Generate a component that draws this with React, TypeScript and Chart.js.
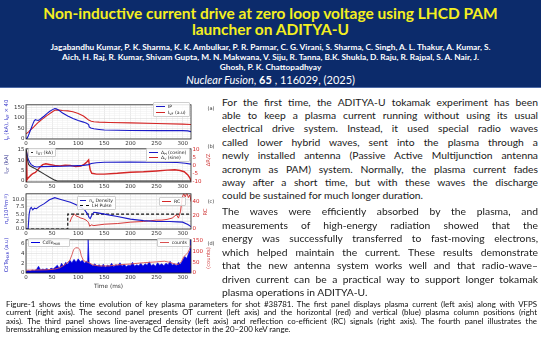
import React, { useEffect, useRef } from "react";
import { Chart, registerables } from "chart.js";
Chart.register(...registerables);

// ---------------- data ----------------
const X_MIN = 0;
const X_MAX = 316;
const X_TICKS = [0, 50, 100, 150, 200, 250, 300];

// (a) plasma current and VFPS current
const ipTime = [0, 2, 4, 7, 10, 13, 16, 18, 20, 23, 26, 30, 35, 40, 45, 50, 55, 58, 62, 70, 80, 90, 100, 110, 116, 120, 121, 124, 130, 140, 150, 175, 200, 250, 300, 310, 316];
const ipValues = [0, 0, 10, 30, 50, 70, 88, 92, 90, 88, 92, 100, 110, 122, 132, 140, 147, 145, 140, 125, 110, 98, 88, 80, 74, 68, 56, 51, 47, 44, 41, 40, 39, 38, 38, 37, 33];
const vfTime = [0, 5, 10, 15, 20, 25, 30, 40, 50, 55, 60, 70, 80, 90, 100, 110, 115, 120, 125, 130, 140, 160, 200, 250, 300, 316];
const vfValues = [22, 32, 45, 57, 70, 82, 92, 112, 130, 138, 140, 137, 135, 131, 122, 110, 100, 90, 84, 82, 80, 78, 76, 73, 70, 68];
const A_LEFT_TICKS = [0, 50, 100, 150];

// (b) OT current and plasma positions
const otTime = [0, 1, 3, 5, 8, 15, 25, 35, 45, 55, 60, 316];
const otValues = [15, 14, 10, 8, 7.2, 6.3, 4.8, 3.3, 1.8, 0.4, 0, 0];
const dhTime = [0, 2, 4, 7, 10, 15, 20, 30, 50, 70, 90, 110, 120, 125, 135, 150, 200, 250, 290, 305, 316];
const dhValues = [10, 7, 4, 2, 0.5, -0.5, -1, -0.8, -0.6, -0.5, -0.3, 0, 0.5, 1.2, 1.7, 2, 2.1, 2, 1.8, 1.4, 0.8];
const dvTime = [0, 1, 2, 4, 7, 10, 14, 18, 22, 27, 32, 38, 45, 55, 65, 75, 85, 95, 105, 112, 117, 120, 121, 123, 126, 135, 150, 175, 200, 225, 250, 270, 285, 295, 303, 310, 314, 316];
const dvValues = [-10, 9, -9, -8, -7, -6, -5, -4.5, -3, -1, 0.5, 1, 0.6, 0, -0.3, 0.2, 0, -0.8, -0.5, 0.8, 2.3, 3.5, 1, -3, -5, -5.5, -5.5, -5, -4.3, -4, -3.5, -3, -2.8, -3.2, -4, -6, -8, -10];
const B_LEFT_TICKS = [0, 5, 10, 15];
const B_RIGHT_TICKS = [-10, -5, 0, 5, 10];

// (c) density, LH pulse, reflection coefficient
const neTime = [0, 4, 6, 8, 10, 13, 16, 20, 25, 35, 45, 55, 65, 75, 85, 95, 105, 112, 118, 121, 123, 126, 130, 135, 150, 175, 200, 225, 250, 275, 290, 300, 310, 316];
const neValues = [0, 0, 5, 6.8, 7.2, 6.4, 7, 6.8, 7.5, 8.5, 9.8, 10.5, 10, 9.5, 9, 8.2, 7.3, 6.5, 5, 3.8, 3.5, 4.6, 5.6, 5.5, 5, 4.2, 3.3, 2.8, 2.5, 2.5, 2.4, 2.3, 1.5, 0.8];
const lhTime = [0, 80, 80, 316];
const lhValues = [0, 0, 5, 5];
const rcTime = [84, 87, 90, 93, 96, 100, 105, 110, 115, 118, 120, 122, 125, 130, 140, 150, 175, 200, 225, 250, 260, 270, 280, 285, 288, 292, 296, 299, 302, 305, 308, 311, 314, 316];
const rcValues = [10, 16, 20, 22, 19, 18, 16, 15, 13, 11, 9, 4, 6, 5, 6, 7, 8, 10, 11, 13, 13, 14, 16, 19, 21, 16, 26, 45, 52, 47, 53, 46, 50, 40];
const C_LEFT_TICKS = [0, 2.5, 5, 7.5, 10];
const C_RIGHT_TICKS = [0, 20, 40];

// (d) CdTe hard x-ray and counts
const cdteTime = [0, 4, 8, 12, 16, 20, 24, 28, 32, 36, 40, 44, 48, 52, 56, 60, 64, 68, 72, 76, 80, 84, 88, 92, 96, 100, 104, 108, 112, 116, 118, 119, 120, 121, 122, 124, 128, 132, 136, 140, 144, 148, 152, 156, 160, 164, 168, 172, 176, 180, 184, 188, 192, 196, 200, 204, 208, 212, 216, 220, 224, 228, 232, 236, 240, 244, 248, 252, 256, 260, 264, 268, 272, 276, 280, 284, 288, 292, 296, 300, 304, 308, 312, 314, 315, 316];
const cdteValues = [0.3, 0.5, 0.4, 0.6, 0.5, 0.7, 1.4, 0.6, 0.8, 0.7, 0.9, 0.6, 1.0, 0.8, 1.2, 1.6, 0.9, 2.0, 1.4, 2.2, 1.8, 2.6, 2.1, 2.8, 2.2, 2.9, 2.3, 2.6, 2.0, 2.4, 2.1, 7.0, 7.0, 2.0, 1.9, 1.8, 1.5, 1.9, 1.4, 1.7, 1.3, 1.8, 1.2, 1.6, 1.4, 2.0, 1.3, 1.7, 1.5, 2.1, 1.4, 1.8, 1.3, 1.6, 1.5, 2.2, 1.4, 1.7, 1.5, 2.0, 1.4, 1.9, 1.6, 2.3, 1.5, 1.8, 1.4, 2.1, 1.6, 1.9, 1.5, 2.0, 1.7, 2.4, 1.6, 1.9, 1.5, 2.2, 1.8, 2.6, 3.4, 3.0, 4.2, 4.6, 7.0, 7.0];
const countTime = [0, 20, 40, 55, 65, 72, 78, 84, 88, 91, 95, 100, 103, 106, 110, 118, 122, 128, 140, 160, 175, 200, 225, 250, 265, 275, 285, 292, 298, 302, 306, 310, 314, 316];
const countValues = [13, 14, 15, 18, 25, 35, 45, 60, 85, 108, 118, 117, 110, 80, 58, 50, 46, 38, 33, 33, 38, 42, 48, 52, 55, 50, 42, 40, 55, 75, 85, 95, 115, 130];
const D_LEFT_TICKS = [0, 2, 4, 6];
const D_RIGHT_TICKS = [0, 50, 100, 150];

// ---------------- styling ----------------
const BLUE = "#1a1ac8";
const RED = "#d42626";
const AX_FONT = "DejaVu Sans";
const CW = 216; // canvas width
const LEFT_W = 26;
const RIGHT_W = 25;

const pts = (t: number[], v: number[]) => t.map((x, i) => ({ x, y: v[i] }));

const framePlugin = {
  id: "frame",
  afterDatasetsDraw(chart: any) {
    const { ctx, chartArea: a } = chart;
    ctx.save();
    ctx.strokeStyle = "#222";
    ctx.lineWidth = 0.8;
    ctx.strokeRect(a.left, a.top, a.right - a.left, a.bottom - a.top);
    ctx.restore();
  },
};

function axis(o: {
  axis: "x" | "y";
  position: string;
  min: number;
  max: number;
  majors: number[];
  minor?: number;
  size: number;
  color?: string;
  fmt?: (v: number) => string;
  grid?: boolean;
  title?: string;
}) {
  const isMajor = (v: number) => o.majors.some((m) => Math.abs(m - v) < 1e-6);
  return {
    type: "linear",
    axis: o.axis,
    position: o.position,
    min: o.min,
    max: o.max,
    afterBuildTicks: (s: any) => {
      const vals: number[] = [];
      if (o.minor) {
        const start = Math.ceil(o.min / o.minor - 1e-9) * o.minor;
        for (let v = start; v <= o.max + 1e-9; v += o.minor) vals.push(Math.round(v * 1000) / 1000);
      } else vals.push(...o.majors);
      s.ticks = vals.map((v) => ({ value: v }));
    },
    afterFit: (s: any) => {
      if (o.axis === "y") s.width = o.size;
      else s.height = o.size;
    },
    ticks: {
      autoSkip: false,
      maxRotation: 0,
      padding: 1.5,
      color: o.color || "#333",
      font: { family: AX_FONT, size: 5.5 },
      callback: (v: number) => (isMajor(v) ? (o.fmt ? o.fmt(v) : String(v)) : ""),
    },
    grid: o.grid
      ? {
          drawTicks: false,
          lineWidth: 0.5,
          color: (c: any) => (c.tick && isMajor(c.tick.value) ? "#d4d4d4" : "#eeeeee"),
        }
      : { display: false, drawTicks: false },
    border: { display: false },
    title: o.title
      ? { display: true, text: o.title, padding: { top: 1.5, bottom: 0 }, font: { family: AX_FONT, size: 5.8 }, color: "#333" }
      : { display: false },
  };
}

const xAxis = (h: number, title?: string) =>
  axis({ axis: "x", position: "bottom", min: X_MIN, max: X_MAX, majors: X_TICKS, minor: 10, size: h, grid: true, title });

const line = (label: string, t: number[], v: number[], color: string, yAxisID = "y", extra: any = {}) => ({
  label,
  data: pts(t, v),
  borderColor: color,
  backgroundColor: color,
  borderWidth: 1.1,
  pointRadius: 0,
  tension: 0,
  yAxisID,
  ...extra,
});

function baseOptions(scales: any, padRight = 0) {
  return {
    animation: false,
    responsive: false,
    devicePixelRatio: 1,
    layout: { padding: { top: 2, right: padRight, left: 0, bottom: 0 } },
    plugins: { legend: { display: false }, tooltip: { enabled: false } },
    scales,
  };
}

const buildA = () => ({
  type: "line",
  data: {
    datasets: [
      line("IP", ipTime, ipValues, BLUE),
      line("I_VF (a.u)", vfTime, vfValues, RED),
    ],
  },
  options: baseOptions(
    {
      x: xAxis(7),
      y: axis({ axis: "y", position: "left", min: -3, max: 165, majors: A_LEFT_TICKS, minor: 10, size: LEFT_W, grid: true }),
    },
    RIGHT_W
  ),
  plugins: [framePlugin],
});

const buildB = () => ({
  type: "line",
  data: {
    datasets: [
      line("I_OT (kA)", otTime, otValues, "#333333"),
      line("Δ_H (cosine)", dhTime, dhValues, BLUE, "y1"),
      line("Δ_V (sine)", dvTime, dvValues, RED, "y1", { borderWidth: 1.4 }),
    ],
  },
  options: baseOptions({
    x: xAxis(7),
    y: axis({ axis: "y", position: "left", min: -0.5, max: 15.5, majors: B_LEFT_TICKS, minor: 1, size: LEFT_W, grid: true }),
    y1: axis({ axis: "y", position: "right", min: -10.5, max: 10.5, majors: B_RIGHT_TICKS, size: RIGHT_W, color: RED }),
  }),
  plugins: [framePlugin],
});

const buildC = () => ({
  type: "line",
  data: {
    datasets: [
      line("n_e Density", neTime, neValues, BLUE),
      line("LH Pulse", lhTime, lhValues, "#111111", "y", { borderDash: [3, 2], borderWidth: 1.2 }),
      line("RC", rcTime, rcValues, RED, "y1", { borderWidth: 0.9 }),
    ],
  },
  options: baseOptions({
    x: xAxis(7),
    y: axis({ axis: "y", position: "left", min: 0, max: 11.8, majors: C_LEFT_TICKS, minor: 0.5, size: LEFT_W, grid: true, fmt: (v) => v.toFixed(1) }),
    y1: axis({ axis: "y", position: "right", min: 0, max: 51.5, majors: C_RIGHT_TICKS, size: RIGHT_W, color: RED }),
  }),
  plugins: [framePlugin],
});

const buildD = () => ({
  type: "line",
  data: {
    datasets: [
      line("counts", countTime, countValues, "#d85050", "y1", { borderWidth: 0.9 }),
      line("CdTe_HXR", cdteTime, cdteValues, "#0000dd", "y", { fill: "origin", borderWidth: 0.6 }),
    ],
  },
  options: baseOptions({
    x: xAxis(17, "Time (ms)"),
    y: axis({ axis: "y", position: "left", min: 0, max: 6.8, majors: D_LEFT_TICKS, minor: 0.5, size: LEFT_W, grid: true }),
    y1: axis({ axis: "y", position: "right", min: 0, max: 155, majors: D_RIGHT_TICKS, size: RIGHT_W, color: RED }),
  }),
  plugins: [framePlugin],
});

// ---------------- components ----------------
function ChartPanel({ top, height, build }: { top: number; height: number; build: () => any }) {
  const ref = useRef<HTMLCanvasElement>(null);
  useEffect(() => {
    const c = new Chart(ref.current as HTMLCanvasElement, build());
    return () => c.destroy();
  }, []);
  return (
    <canvas
      ref={ref}
      width={CW}
      height={height}
      style={{ position: "absolute", left: 0, top, width: CW, height }}
    />
  );
}

type LegItem = { color: string; dash?: boolean; label: React.ReactNode };
function Legend({ x, y, w, items }: { x: number; y: number; w: number; items: LegItem[] }) {
  return (
    <div
      style={{
        position: "absolute",
        left: x,
        top: y,
        width: w,
        padding: "1px 2px",
        boxSizing: "border-box",
        background: "rgba(255,255,255,0.85)",
        border: "0.5px solid #cfcfcf",
        borderRadius: 1,
        fontFamily: AX_FONT,
        fontSize: 4.6,
        color: "#222",
      }}
    >
      {items.map((it, i) => (
        <div key={i} style={{ display: "flex", alignItems: "center", height: 5.4, whiteSpace: "nowrap" }}>
          <span
            style={{
              display: "inline-block",
              width: 9,
              height: 0,
              borderTop: `1.2px ${it.dash ? "dashed" : "solid"} ${it.color}`,
              marginRight: 3,
            }}
          />
          <span>{it.label}</span>
        </div>
      ))}
    </div>
  );
}

function RotLabel({ x, y, color, children, size = 5.3 }: { x: number; y: number; color: string; children: React.ReactNode; size?: number }) {
  return (
    <div
      style={{
        position: "absolute",
        left: x,
        top: y,
        transform: "translate(-50%, -50%) rotate(-90deg)",
        whiteSpace: "nowrap",
        color,
        fontFamily: AX_FONT,
        fontSize: size,
        lineHeight: 1,
      }}
    >
      {children}
    </div>
  );
}

function Tag({ x, y, children }: { x: number; y: number; children: React.ReactNode }) {
  return (
    <div style={{ position: "absolute", left: x, top: y, transform: "translate(-50%,-50%)", fontFamily: AX_FONT, fontSize: 5, color: "#333" }}>
      {children}
    </div>
  );
}

const sub = (t: string) => <sub style={{ fontSize: "0.7em", verticalAlign: "-0.25em", lineHeight: 0 }}>{t}</sub>;
const sup = (t: string) => <sup style={{ fontSize: "0.7em", verticalAlign: "0.45em", lineHeight: 0 }}>{t}</sup>;

const PARA1 = [
  "For the first time, the ADITYA-U tokamak experiment has been",
  "able to keep a plasma current running without using its usual",
  "electrical drive system. Instead, it used special radio waves",
  "called lower hybrid waves, sent into the plasma through a",
  "newly installed antenna (Passive Active Multijunction antenna",
  "acronym as PAM) system. Normally, the plasma current fades",
  "away after a short time, but with these waves the discharge",
  "could be sustained for much longer duration.",
];
const PARA2 = [
  "The waves were efficiently absorbed by the plasma, and",
  "measurements of high-energy radiation showed that the",
  "energy was successfully transferred to fast-moving electrons,",
  "which helped maintain the current. These results demonstrate",
  "that the new antenna system works well and that radio-wave–",
  "driven current can be a practical way to support longer tokamak",
  "plasma operations in ADITYA-U.",
];
const CAPTION = [
  "Figure-1 shows the time evolution of key plasma parameters for shot #38781. The first panel displays plasma current (left axis) along with VFPS",
  "current (right axis). The second panel presents OT current (left axis) and the horizontal (red) and vertical (blue) plasma column positions (right",
  "axis). The third panel shows line-averaged density (left axis) and reflection co-efficient (RC) signals (right axis). The fourth panel illustrates the",
  "bremsstrahlung emission measured by the CdTe detector in the 20–200 keV range.",
];

function Para({ lines, x, y, w, lh, size, color, weight = 400 }: { lines: string[]; x: number; y: number; w: number; lh: number; size: number; color: string; weight?: number }) {
  return (
    <div style={{ position: "absolute", left: x, top: y, width: w, fontFamily: "Lato, 'Open Sans', sans-serif", fontSize: size, color, fontWeight: weight }}>
      {lines.map((l, i) => {
        const last = i === lines.length - 1;
        return (
          <div
            key={i}
            style={{
              height: lh,
              lineHeight: `${lh}px`,
              overflow: "hidden",
              textAlign: last ? "left" : "justify",
              textAlignLast: last ? "left" : "justify",
            } as any}
          >
            {l}
          </div>
        );
      })}
    </div>
  );
}

export default function App() {
  return (
    <div style={{ position: "absolute", left: 0, top: 0, width: 541, height: 342, background: "#fff", overflow: "hidden" }}>
      {/* header */}
      <div style={{ position: "absolute", left: 0, top: 0, width: 541, height: 87, background: "#0c2b6b", borderBottom: "1px solid #4d6aa6" }}>
        <div
          style={{
            position: "absolute",
            left: 0,
            top: 5,
            width: 541,
            textAlign: "center",
            color: "#f4ef1f",
            fontFamily: "Lato, sans-serif",
            fontWeight: 700,
            fontSize: 15.5,
            lineHeight: "16px",
          }}
        >
          Non-inductive current drive at zero loop voltage using LHCD PAM
          <br />
          launcher on ADITYA-U
        </div>
        <div
          style={{
            position: "absolute",
            left: 0,
            top: 41.5,
            width: 541,
            textAlign: "center",
            color: "#ffffff",
            fontFamily: "Lato, sans-serif",
            fontWeight: 700,
            fontSize: 8.3,
            lineHeight: "10.3px",
          }}
        >
          Jagabandhu Kumar, P. K. Sharma, K. K. Ambulkar, P. R. Parmar, C. G. Virani, S. Sharma, C. Singh, A. L. Thakur, A. Kumar, S.
          <br />
          Aich, H. Raj, R. Kumar, Shivam Gupta, M. N. Makwana, V. Siju, R. Tanna, B.K. Shukla, D. Raju, R. Rajpal, S. A. Nair, J.
          <br />
          Ghosh, P. K. Chattopadhyay
        </div>
        <div
          style={{
            position: "absolute",
            left: 0,
            top: 73,
            width: 541,
            textAlign: "center",
            color: "#ffffff",
            fontFamily: "Lato, sans-serif",
            fontSize: 11,
            lineHeight: "14px",
          }}
        >
          <i>Nuclear Fusion</i>, <b>65</b> , 116029, (2025)
        </div>
      </div>

      {/* charts */}
      <ChartPanel top={100} height={46} build={buildA} />
      <ChartPanel top={144} height={45} build={buildB} />
      <ChartPanel top={189} height={47} build={buildC} />
      <ChartPanel top={235} height={55} build={buildD} />

      {/* legends */}
      <Legend x={153} y={102} w={37} items={[
        { color: BLUE, label: "IP" },
        { color: RED, label: <>I{sub("VF")} (a.u)</> },
      ]} />
      <Legend x={28} y={147.5} w={28} items={[{ color: "#333", label: <>I{sub("OT")} (kA)</> }]} />
      <Legend x={146} y={147.5} w={44} items={[
        { color: BLUE, label: <>Δ{sub("H")} (cosine)</> },
        { color: RED, label: <>Δ{sub("V")} (sine)</> },
      ]} />
      <Legend x={77} y={195.5} w={39} items={[
        { color: BLUE, label: <>n{sub("e")} Density</> },
        { color: "#111", dash: true, label: "LH Pulse" },
      ]} />
      <Legend x={159} y={197} w={27} items={[{ color: RED, label: "RC" }]} />
      <Legend x={27.5} y={237.5} w={42} items={[{ color: "#0000dd", label: <>CdTe{sub("HXR")}</> }]} />
      <Legend x={157} y={237.5} w={33} items={[{ color: "#d85050", label: "counts" }]} />

      {/* axis titles */}
      <RotLabel x={6.5} y={120} color="#3434c8">I{sub("p")} (kA), I{sub("VF")} × 40</RotLabel>
      <RotLabel x={6.5} y={164} color="#2a2a8a">I{sub("OT")} (kA)</RotLabel>
      <RotLabel x={6.5} y={209} color="#3434c8">n{sub("e")}(10{sup("19")}m{sup("-3")})</RotLabel>
      <RotLabel x={6.5} y={255} color="#3434c8">CdTe{sub("HXR")} (a.u)</RotLabel>
      <RotLabel x={209} y={160} color="#d04040">ΔR/Z</RotLabel>
      <RotLabel x={206} y={212} color="#d04040">RC</RotLabel>
      <RotLabel x={209} y={258} color="#d04040">(counts)</RotLabel>

      {/* panel tags */}
      <Tag x={211} y={108}>(a)</Tag>
      <Tag x={211} y={146}>(b)</Tag>
      <Tag x={211} y={201}>(c)</Tag>
      <Tag x={211} y={243}>(d)</Tag>

      {/* text */}
      <Para lines={PARA1} x={222} y={95.6} w={316} lh={13.4} size={10.3} color="#1a1a1a" />
      <Para lines={PARA2} x={222} y={205} w={316} lh={13.5} size={10.3} color="#1a1a1a" />
      <Para lines={CAPTION} x={6} y={300} w={531} lh={8.4} size={7.9} color="#0d0d0d" />
    </div>
  );
}
